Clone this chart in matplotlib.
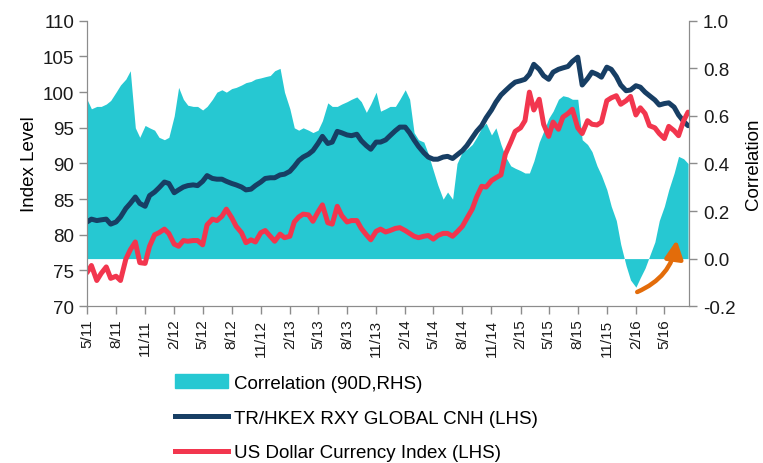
import numpy as np
import pandas as pd
import matplotlib
matplotlib.use('Agg')
import matplotlib.pyplot as plt
from matplotlib.patches import FancyArrowPatch, Patch
from matplotlib.lines import Line2D

plt.rcParams['font.family'] = ['Liberation Sans', 'DejaVu Sans']

# semi-monthly readings, 1 May 2011 .. 15 Jul 2016
dates = pd.date_range('2011-05-01', periods=126, freq='SMS')

rxy_cnh = [81.8, 82.2, 82.0, 82.1, 82.2, 81.5, 81.8, 82.5, 83.7, 84.4,
           85.3, 84.4, 84.0, 85.5, 86.0, 86.6, 87.4, 87.2, 85.9, 86.3,
           86.7, 86.9, 87.0, 86.9, 87.5, 88.3, 87.9, 87.8, 87.8, 87.5,
           87.2, 87.0, 86.7, 86.3, 86.4, 86.9, 87.4, 87.9, 88.0, 88.0,
           88.4, 88.5, 88.9, 89.6, 90.4, 90.9, 91.3, 91.8, 92.8, 93.8,
           92.8, 93.0, 94.5, 94.3, 94.0, 93.9, 94.1, 93.2, 92.5, 92.0,
           93.0, 93.0, 93.3, 93.9, 94.6, 95.1, 95.1, 94.3, 93.3, 92.4,
           91.5, 90.9, 90.6, 90.6, 90.9, 91.0, 90.7, 91.2, 91.8, 92.5,
           93.6, 94.5, 95.3, 96.4, 97.5, 98.6, 99.6, 100.2, 100.9, 101.4,
           101.6, 101.8, 102.5, 103.9, 103.2, 102.3, 101.8, 102.8, 103.2, 103.4,
           103.6, 104.3, 104.9, 101.0, 101.9, 102.8, 102.5, 102.1, 103.5, 103.2,
           102.2, 101.0, 100.2, 100.3, 100.9, 100.7, 100.0, 99.5, 98.9, 98.2,
           98.4, 98.5, 97.9, 96.8, 95.9, 95.3]

usd_index = [74.7, 75.7, 73.6, 74.6, 75.5, 73.9, 74.2, 73.6, 76.6, 77.9,
             79.0, 76.1, 76.0, 78.4, 80.0, 80.3, 80.8, 80.2, 78.7, 78.4,
             79.2, 79.1, 79.2, 79.2, 78.6, 81.4, 82.2, 82.0, 82.6, 83.6,
             82.4, 81.2, 80.3, 78.9, 79.3, 79.0, 80.3, 80.6, 79.8, 79.1,
             80.1, 79.6, 79.8, 81.8, 82.5, 82.9, 82.8, 81.9, 83.2, 84.2,
             81.7, 81.5, 84.0, 82.7, 81.8, 82.0, 82.0, 80.9, 80.0, 79.3,
             80.5, 80.8, 80.4, 80.6, 80.9, 81.0, 80.6, 80.2, 79.8, 79.6,
             79.8, 79.9, 79.4, 79.9, 80.2, 80.2, 79.8, 80.4, 81.2, 82.3,
             83.6, 85.3, 86.8, 86.7, 87.6, 88.0, 88.4, 91.3, 93.0, 94.5,
             95.0, 96.0, 100.0, 97.5, 99.0, 95.5, 93.8, 95.8, 94.8, 96.5,
             97.0, 97.6, 95.0, 94.2, 96.0, 95.5, 95.4, 95.8, 98.8, 99.2,
             99.5, 98.3, 98.8, 99.4, 96.8, 97.8, 97.0, 95.3, 95.0, 94.2,
             93.5, 95.2, 94.6, 93.9, 96.0, 97.2]

corr_90d = [0.67, 0.63, 0.64, 0.64, 0.65, 0.665, 0.70, 0.73, 0.755, 0.79,
            0.55, 0.51, 0.56, 0.55, 0.54, 0.51, 0.50, 0.51, 0.60, 0.72,
            0.67, 0.645, 0.64, 0.64, 0.625, 0.64, 0.67, 0.70, 0.71, 0.70,
            0.715, 0.72, 0.73, 0.74, 0.745, 0.755, 0.76, 0.765, 0.77, 0.79,
            0.80, 0.70, 0.63, 0.55, 0.54, 0.55, 0.54, 0.53, 0.54, 0.58,
            0.655, 0.64, 0.64, 0.65, 0.66, 0.67, 0.68, 0.66, 0.615, 0.65,
            0.70, 0.62, 0.63, 0.64, 0.64, 0.67, 0.71, 0.67, 0.53, 0.50,
            0.49, 0.44, 0.37, 0.31, 0.25, 0.28, 0.25, 0.40, 0.45, 0.46,
            0.48, 0.51, 0.55, 0.57, 0.52, 0.55, 0.48, 0.43, 0.39, 0.38,
            0.37, 0.36, 0.36, 0.41, 0.49, 0.535, 0.59, 0.62, 0.67, 0.685,
            0.68, 0.67, 0.67, 0.50, 0.48, 0.45, 0.39, 0.35, 0.29, 0.22,
            0.16, 0.06, -0.03, -0.09, -0.12, -0.08, -0.04, 0.01, 0.07, 0.16,
            0.22, 0.29, 0.36, 0.43, 0.42, 0.40]

tick_dates = ['2011-05-01', '2011-08-01', '2011-11-01', '2012-02-01', '2012-05-01',
              '2012-08-01', '2012-11-01', '2013-02-01', '2013-05-01', '2013-08-01',
              '2013-11-01', '2014-02-01', '2014-05-01', '2014-08-01', '2014-11-01',
              '2015-02-01', '2015-05-01', '2015-08-01', '2015-11-01', '2016-02-01',
              '2016-05-01']
tick_labels = ['5/11', '8/11', '11/11', '2/12', '5/12', '8/12', '11/12', '2/13',
               '5/13', '8/13', '11/13', '2/14', '5/14', '8/14', '11/14', '2/15',
               '5/15', '8/15', '11/15', '2/16', '5/16']

CYAN = '#26C8D2'
NAVY = '#173E64'
RED = '#F2364E'
ORANGE = '#E36C0A'
GREY = '#8C8C8C'

fig = plt.figure(figsize=(7.63, 4.64), dpi=100)
ax = fig.add_axes([0.114, 0.338, 0.789, 0.615])
ax2 = ax.twinx()

ax2.fill_between(dates, 0, corr_90d, color=CYAN, lw=0)
ax.plot(dates, rxy_cnh, color=NAVY, lw=3.6, solid_capstyle='round')
ax.plot(dates, usd_index, color=RED, lw=3.6, solid_capstyle='round')

# lines on top of the correlation area
ax.set_zorder(ax2.get_zorder() + 1)
ax.patch.set_visible(False)

ax.set_ylim(70, 110)
ax.set_yticks(np.arange(70, 111, 5))
ax2.set_ylim(-0.2, 1.0)
ax2.set_yticks(np.arange(-0.2, 1.01, 0.2))
ax2.set_yticklabels(['%.1f' % v for v in np.arange(-0.2, 1.01, 0.2)])

ax.set_xlim(pd.Timestamp('2011-05-01'), pd.Timestamp('2016-07-18'))
ax.set_xticks(pd.to_datetime(tick_dates))
ax.set_xticklabels(tick_labels, rotation=90, fontsize=11)

for a in (ax, ax2):
    for s in a.spines.values():
        s.set_color(GREY)
    a.spines['top'].set_visible(False)
a_tick = dict(colors=GREY, labelcolor='#1a1a1a', length=6, width=1)
ax.tick_params(axis='y', labelsize=13.5, pad=3, **a_tick)
ax.tick_params(axis='x', pad=3, **a_tick)
ax2.tick_params(axis='y', labelsize=13.5, pad=4, **a_tick)

ax.set_ylabel('Index Level', fontsize=13.5, labelpad=4)
ax2.set_ylabel('Correlation', fontsize=13.5, rotation=90, labelpad=7)

arrow = FancyArrowPatch((pd.Timestamp('2016-01-28'), -0.145),
                        (pd.Timestamp('2016-06-10'), 0.09),
                        connectionstyle='arc3,rad=0.3', arrowstyle='-|>',
                        mutation_scale=27, lw=3.2, color=ORANGE)
ax2.add_patch(arrow)

handles = [Patch(color=CYAN),
           Line2D([], [], color=NAVY, lw=3.6),
           Line2D([], [], color=RED, lw=3.6)]
labels = ['Correlation (90D,RHS)', 'TR/HKEX RXY GLOBAL CNH (LHS)',
          'US Dollar Currency Index (LHS)']
fig.legend(handles, labels, loc='center left', bbox_to_anchor=(0.23, 0.097),
           frameon=False, fontsize=13.5, handlelength=2.8, handletextpad=0.3,
           labelspacing=0.95, borderpad=0, borderaxespad=0)

fig.savefig('out.png', dpi=100)
